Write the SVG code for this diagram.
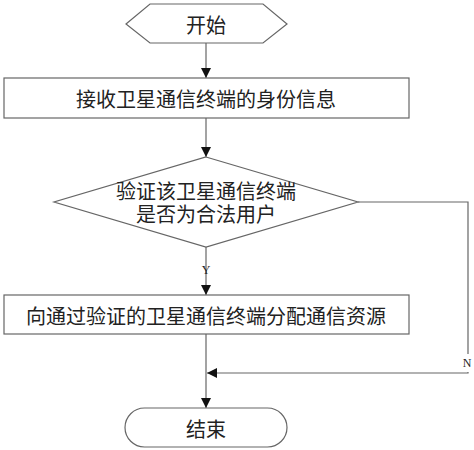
<svg xmlns="http://www.w3.org/2000/svg" width="474" height="450" viewBox="0 0 474 450">
<style>
.shape{fill:#fff;stroke:#666;stroke-width:1.2}
.line{fill:none;stroke:#666;stroke-width:1.2}
.t{font-family:"Noto Sans CJK SC","Noto Sans",sans-serif;font-size:20px;fill:#222;text-anchor:middle;dominant-baseline:central}
.l{font-family:"Liberation Serif",serif;font-size:12px;fill:#222;text-anchor:middle;dominant-baseline:central}
</style>
<defs>
<marker id="arr" viewBox="0 0 10 10" refX="10" refY="5" markerWidth="10" markerHeight="10" markerUnits="userSpaceOnUse" orient="auto">
<path d="M0,0 L10,5 L0,10 Z" fill="#111"/>
</marker>
</defs>
<rect width="474" height="450" fill="#fff"/>
<g id="connectors">
<line class="line" x1="206" y1="43" x2="206" y2="78" marker-end="url(#arr)"/>
<line class="line" x1="206" y1="118" x2="206" y2="157" marker-end="url(#arr)"/>
<line class="line" x1="206" y1="247" x2="206" y2="295" marker-end="url(#arr)"/>
<line class="line" x1="206" y1="334" x2="206" y2="408" marker-end="url(#arr)"/>
<polyline class="line" points="358,202 468,202 468,354"/>
<polyline class="line" points="468,372 468,373 207,373" marker-end="url(#arr)"/>
<text class="l" x="206" y="270">Y</text>
<text class="l" x="467" y="363">N</text>
</g>
<g id="start">
<polygon class="shape" points="126,24 150,4 263,4 287,24 263,43 150,43"/>
<text class="t" x="206" y="24">开始</text>
</g>
<g id="receive">
<rect class="shape" x="4" y="78" width="405" height="40"/>
<text class="t" x="206" y="98">接收卫星通信终端的身份信息</text>
</g>
<g id="verify">
<polygon class="shape" points="206,157 358,202 206,247 54,202"/>
<text class="t"><tspan x="206" y="190">验证该卫星通信终端</tspan><tspan x="206" y="213">是否为合法用户</tspan></text>
</g>
<g id="allocate">
<rect class="shape" x="4" y="295" width="405" height="39"/>
<text class="t" x="206" y="315">向通过验证的卫星通信终端分配通信资源</text>
</g>
<g id="end">
<rect class="shape" x="125" y="408" width="162" height="39" rx="19.5" ry="19.5"/>
<text class="t" x="206" y="428">结束</text>
</g>
</svg>
